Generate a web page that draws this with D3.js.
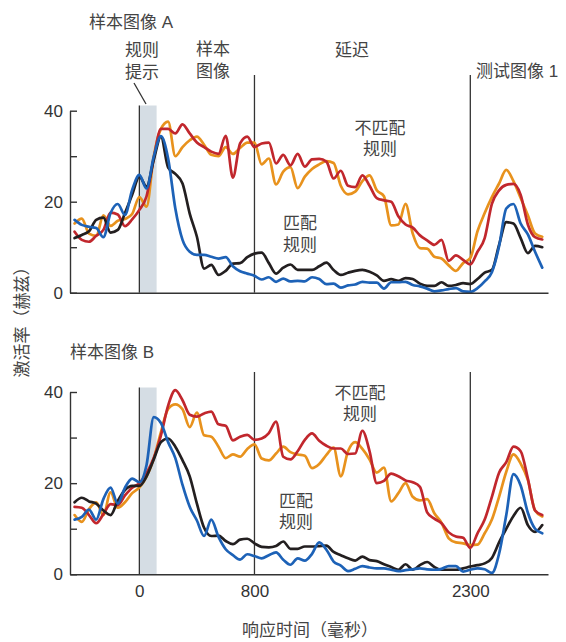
<!DOCTYPE html>
<html><head><meta charset="utf-8">
<script src="https://cdn.jsdelivr.net/npm/d3@7"></script>
<style>body{margin:0;background:#fff}svg{display:block}</style>
</head><body><svg id="c" width="566" height="642"></svg>
<script>
// ---- data (ms, spikes/s) ----
const times = [-450,-400,-350,-300,-250,-200,-150,-100,-50,0,
  50,100,150,200,250,300,350,400,450,500,
  550,600,650,700,750,800,850,900,950,1000,
  1050,1100,1150,1200,1250,1300,1350,1400,1450,1500,
  1550,1600,1650,1700,1750,1800,1850,1900,1950,2000,
  2050,2100,2150,2200,2250,2300,2350,2400,2450,2500,
  2550,2600,2650,2700,2750,2800];

// Sample image A
const redA = [13.4,11.6,11.2,12.5,13.8,17.6,17.2,14.6,16.1,18.2,
  21.2,29.5,36,36,35,37,35,33,32,31,
  30.5,34.5,25.3,32.8,34.3,32.0,32.8,33,28.4,30.3,
  28.0,30.5,27.7,29.3,29.4,28.8,25.1,26.8,23.5,23.2,
  25.8,23.5,20.8,20.3,20.0,16.8,15.0,14.3,12.6,11.5,
  10.5,11.6,7.0,8.2,7.2,6.2,9.0,12.0,19.5,22.5,
  23.7,23.9,21.5,15.0,12.2,11.7];
const orangeA = [15.2,16.3,13.0,12.5,17.0,14.7,15.8,16.2,17.3,21.0,
  18.9,30,36,37.6,30,32,33.5,34.3,32.5,30.3,
  30.0,32,30.5,31.8,33,33,28.2,29.5,23.8,26.6,
  27.6,23.0,25.5,27.2,28.2,28.9,28.5,23.5,21.6,22.2,
  24.5,25.8,22.5,21.2,14.8,15.0,19.5,13.0,9.8,9.7,
  7.9,7.5,6.0,4.8,6.5,7.6,13.5,17.5,21.0,24.0,
  27.0,24.5,20.8,17.0,13.0,12.3];
const blackA = [12,12.7,13.5,16.0,16.5,13.2,13.8,17.5,21.5,25.5,
  23.3,29.2,34.3,27.5,26.1,24.0,17.4,12.3,5.3,6.1,
  3.9,4.8,6.4,6.5,7.8,8.6,8.8,6.5,4.2,5.5,
  6.2,5.0,5.0,5.0,5.8,6.6,5.0,3.9,4.4,4.8,
  5.0,4.6,3.8,2.6,3.0,2.6,3.2,3.0,2.0,1.5,
  1.5,2.3,1.5,1.7,2.1,1.9,3.0,4.4,5.0,10.5,
  15.5,15.2,12.0,8.7,10.3,10.0];
const blueA = [16.0,14.9,14.5,14.2,12.2,17.5,19.5,17.1,22.6,25.9,
  22.9,29.9,34.4,29.5,18.5,11.6,9.0,8.3,8.3,7.9,
  7.5,7.8,5.8,4.7,4.2,3.7,2.9,3.4,2.4,3.1,
  2.5,2.6,2.5,3.4,3.0,1.9,2.0,1.1,1.6,1.8,
  2.4,2.2,2.2,0.9,2.3,2.3,2.4,1.7,1.4,0.9,
  0.3,0.5,0.8,1.0,0.3,0.2,1.0,2.5,4.5,10.2,
  18.5,19.5,15.2,12.8,9.0,5.5];

// Sample image B
const redB = [14.8,14.6,13.0,11.2,13.2,15.4,15.2,17.3,19.0,20.0,
  22.2,25.5,30.5,37.0,40.4,38.2,35.0,34.6,35.3,35.7,
  32.9,32.6,29.4,30.2,30.6,29.5,29.8,31.0,33.5,25.8,
  25.2,27.0,29.5,30.9,29.3,28.2,27.6,27.6,26.4,26.5,
  31.5,27.0,20.0,20.5,22.1,21.5,20.6,20.2,19.2,13.6,
  12.2,11.2,9.2,8.3,8.0,5.8,9.0,12.0,17.0,22.3,
  24.6,28.0,27.0,21.0,14.0,13.0];
const orangeB = [13.0,11.5,14.3,15.8,13.0,18.0,14.6,15.8,17.8,19.0,
  21.4,25.4,31.2,36.3,37.3,36.2,32.3,35.5,30.5,30.2,
  28.0,25.5,26.3,25.8,27.5,28.5,25.4,25.0,26.5,28.0,
  26.8,26.3,26.0,23.3,24.2,26.2,27.8,21.5,27.0,29.0,
  27.5,25.2,22.3,23.4,16.0,17.8,20.0,17.0,16.2,16.5,
  13.4,11.3,7.9,7.0,6.8,6.4,6.5,9.0,12.0,17.0,
  22.5,26.3,24.3,20.7,14.0,12.7];
const blackB = [15.8,16.8,16.0,15.5,14.0,13.0,16.1,18.5,19.4,19.4,
  21.5,25.2,29.0,29.8,28.0,25.0,21.5,15.5,10.2,8.4,
  8.5,7.3,6.6,7.6,7.8,6.8,6.0,5.9,6.2,7.2,
  5.6,5.6,6.1,6.1,6.2,6.3,4.9,4.2,3.5,3.0,
  3.9,3.1,2.9,2.2,1.6,1.0,2.2,1.0,2.0,2.7,
  1.6,1.0,1.0,1.0,1.3,1.7,2.0,2.4,3.6,7.0,
  10.0,12.8,14.6,10.8,9.3,10.8];
const blueB = [12.0,12.6,14.2,12.0,16.5,19.0,15.5,19.0,21.0,20.2,
  24.0,34.5,33.2,29.0,25.5,19.6,14.8,11.8,8.4,12.0,
  8.2,5.5,4.2,3.2,4.4,4.0,3.5,4.2,4.8,3.2,
  2.1,3.5,3.0,4.5,7.0,5.4,2.8,1.9,0.7,1.2,
  1.8,1.5,1.3,1.3,1.0,0.7,0.9,1.1,1.3,1.1,
  1.0,1.2,1.8,1.8,0.6,1.0,1.3,1.1,0.3,4.5,
  13.0,22.0,19.5,13.5,10.0,9.0];

const yTicks = [0,10,20,30,40];
const yLabels = [0,20,40];
const xTickValues = [0,800,2300];
const cueEnd = 120;          // rule cue duration (ms)
const epochs = [0,800,2300];

// ---- layout ----
const FONT = "'Liberation Sans','Noto Sans CJK SC',sans-serif";
const svg = d3.select("#c");
svg.append("rect").attr("width",566).attr("height",642).attr("fill","#fff");
const x = d3.scaleLinear().domain([-482,2840]).range([70,548]);
const colors = {red:"#c1272d", orange:"#e8921d", black:"#231f20", blue:"#1d62b7"};

const panels = [
  {y:d3.scaleLinear().domain([0,40]).range([292.7,110.7]), rectTop:105.5, epochTop:75,
   series:[["orange",orangeA],["red",redA],["black",blackA],["blue",blueA]], curve:d3.curveMonotoneX, showX:false},
  {y:d3.scaleLinear().domain([0,40]).range([574.3,392]), rectTop:387.5, epochTop:372,
   series:[["orange",orangeB],["red",redB],["black",blackB],["blue",blueB]], curve:d3.curveMonotoneX, showX:true}
];

panels.forEach(p=>{
  const g = svg.append("g");
  const y = p.y;
  g.append("rect").attr("x",x(0)).attr("width",x(cueEnd)-x(0))
    .attr("y",p.rectTop).attr("height",y(0)-p.rectTop).attr("fill","#d5dde4");
  epochs.forEach(e=>{
    g.append("line").attr("x1",x(e)).attr("x2",x(e))
      .attr("y1", e===0 ? p.rectTop : p.epochTop).attr("y2",y(0))
      .attr("stroke","#333").attr("stroke-width",1.3);
  });
  const line = d3.line().x((d,i)=>x(times[i])).y(d=>y(d)).curve(p.curve);
  p.series.forEach(([c,vals])=>{
    g.append("path").attr("d",line(vals)).attr("fill","none")
      .attr("stroke",colors[c]).attr("stroke-width",2.7)
      .attr("stroke-linejoin","round").attr("stroke-linecap","round");
  });
  const ya = d3.axisLeft(y).tickValues(yTicks).tickSizeInner(-7).tickSizeOuter(0).tickPadding(7)
    .tickFormat(d=>yLabels.includes(d)?String(d):"");
  const gy = g.append("g").attr("transform",`translate(${x.range()[0]},0)`).call(ya);
  const xa = d3.axisBottom(x).tickValues(p.showX?xTickValues:[]).tickSize(0).tickPadding(11)
    .tickFormat(d=>String(d));
  const gx = g.append("g").attr("transform",`translate(0,${y(0)})`).call(xa);
  [gy,gx].forEach(a=>{
    a.selectAll("path,line").attr("stroke","#333").attr("stroke-width",1.4);
    a.selectAll("text").attr("font-family",FONT).attr("font-size",17).attr("fill","#333");
  });
});

// ---- annotations ----
const txt = (s,x0,y0,anchor="middle")=>svg.append("text").attr("x",x0).attr("y",y0)
  .attr("text-anchor",anchor).attr("dominant-baseline","central")
  .attr("font-family",FONT).attr("font-size",17).attr("fill","#444").text(s);
txt("样本图像 A",89,22,"start");
txt("规则",142,50); txt("提示",142,72);
txt("样本",213,49); txt("图像",213,71);
txt("延迟",352,50);
txt("测试图像 1",476,71,"start");
txt("不匹配",380,128); txt("规则",380,149);
txt("匹配",300,223); txt("规则",300,245);
txt("样本图像 B",70,352,"start");
txt("不匹配",360,393); txt("规则",360,414);
txt("匹配",296,501); txt("规则",296,522);
txt("响应时间（毫秒）",310,630);
svg.append("text").attr("transform","translate(22,318) rotate(-90)")
  .attr("text-anchor","middle").attr("dominant-baseline","central")
  .attr("font-family",FONT).attr("font-size",17).attr("fill","#444").text("激活率（赫兹）");
svg.append("line").attr("x1",134).attr("y1",83).attr("x2",146).attr("y2",104)
  .attr("stroke","#333").attr("stroke-width",1.3);
</script></body></html>
